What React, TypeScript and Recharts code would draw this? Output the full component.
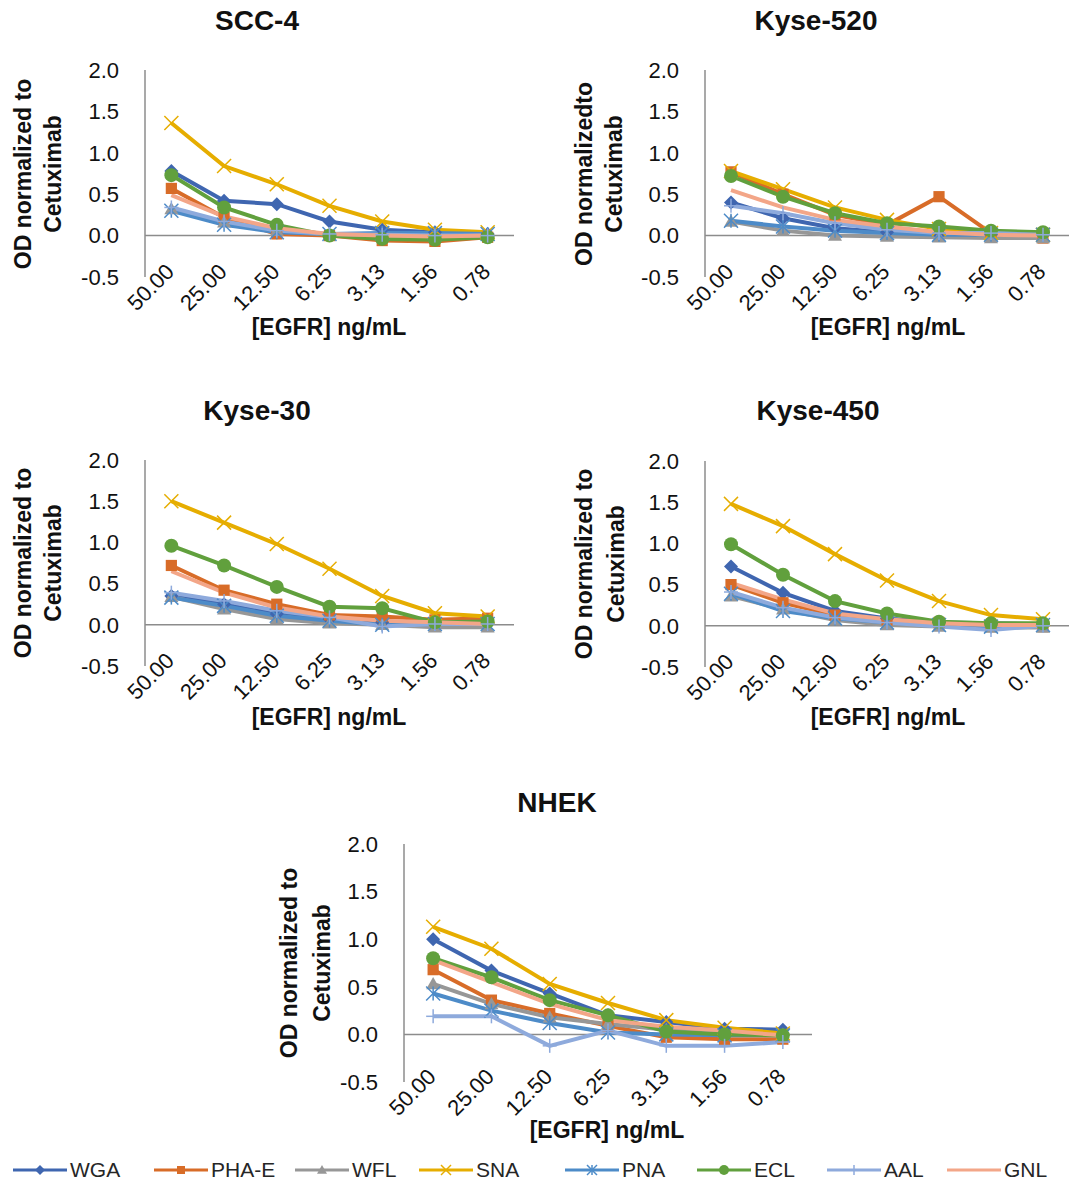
import React from 'react';
import { LineChart, Line, XAxis, YAxis, ReferenceLine } from 'recharts';

// [EGFR] ng/mL, in the order they appear on the x axis
const concentrations = ['50.00', '25.00', '12.50', '6.25', '3.13', '1.56', '0.78'];
const yTicks = [-0.5, 0, 0.5, 1, 1.5, 2];
const lectins = ['WGA', 'PHA-E', 'WFL', 'SNA', 'PNA', 'ECL', 'AAL', 'GNL'];

const scc4: Record<string, number[]> = {
  WGA: [0.78, 0.42, 0.38, 0.17, 0.07, 0.04, 0.02],
  'PHA-E': [0.57, 0.22, 0.02, 0.0, -0.06, -0.07, -0.02],
  WFL: [0.32, 0.16, 0.06, 0.01, 0.0, -0.01, 0.0],
  SNA: [1.36, 0.84, 0.62, 0.36, 0.17, 0.07, 0.04],
  PNA: [0.3, 0.13, 0.04, 0.02, 0.03, 0.03, 0.02],
  ECL: [0.73, 0.34, 0.13, 0.0, -0.04, -0.05, -0.02],
  AAL: [0.34, 0.17, 0.06, 0.02, 0.01, 0.0, 0.0],
  GNL: [0.49, 0.23, 0.09, 0.02, 0.0, -0.01, 0.0],
};

const kyse520: Record<string, number[]> = {
  WGA: [0.4, 0.21, 0.09, 0.04, 0.02, 0.01, 0.01],
  'PHA-E': [0.77, 0.5, 0.25, 0.13, 0.47, 0.03, -0.03],
  WFL: [0.17, 0.06, 0.0, -0.01, -0.02, -0.03, -0.03],
  SNA: [0.78, 0.56, 0.34, 0.19, 0.08, 0.03, 0.01],
  PNA: [0.18, 0.11, 0.06, 0.03, 0.01, 0.01, 0.01],
  ECL: [0.72, 0.47, 0.27, 0.15, 0.11, 0.06, 0.04],
  AAL: [0.36, 0.27, 0.15, 0.07, 0.03, 0.03, 0.01],
  GNL: [0.55, 0.34, 0.19, 0.11, 0.04, 0.01, 0.0],
};

const kyse30: Record<string, number[]> = {
  WGA: [0.35, 0.25, 0.13, 0.07, 0.03, 0.03, 0.03],
  'PHA-E': [0.72, 0.42, 0.25, 0.12, 0.1, 0.06, 0.08],
  WFL: [0.34, 0.19, 0.07, 0.02, 0.0, -0.03, -0.03],
  SNA: [1.5, 1.24, 0.98, 0.68, 0.35, 0.14, 0.1],
  PNA: [0.33, 0.23, 0.11, 0.05, 0.0, 0.01, 0.01],
  ECL: [0.96, 0.72, 0.46, 0.22, 0.2, 0.03, 0.04],
  AAL: [0.39, 0.29, 0.17, 0.09, -0.02, 0.01, 0.01],
  GNL: [0.65, 0.39, 0.21, 0.1, 0.05, 0.03, 0.01],
};

const kyse450: Record<string, number[]> = {
  WGA: [0.72, 0.4, 0.18, 0.09, 0.04, 0.03, 0.02],
  'PHA-E': [0.5, 0.28, 0.13, 0.07, 0.04, -0.01, -0.01],
  WFL: [0.36, 0.2, 0.07, 0.01, -0.01, -0.02, -0.02],
  SNA: [1.48, 1.21, 0.87, 0.55, 0.3, 0.13, 0.08],
  PNA: [0.39, 0.18, 0.09, 0.04, 0.01, -0.01, 0.01],
  ECL: [0.99, 0.62, 0.3, 0.15, 0.05, 0.03, 0.03],
  AAL: [0.41, 0.22, 0.1, 0.04, -0.01, -0.05, 0.0],
  GNL: [0.52, 0.32, 0.15, 0.08, 0.03, 0.01, 0.01],
};

const nhek: Record<string, number[]> = {
  WGA: [1.0, 0.67, 0.43, 0.2, 0.13, 0.06, 0.05],
  'PHA-E': [0.68, 0.36, 0.22, 0.09, -0.03, -0.05, -0.05],
  WFL: [0.53, 0.32, 0.18, 0.11, 0.05, 0.02, 0.0],
  SNA: [1.13, 0.9, 0.53, 0.33, 0.15, 0.07, 0.01],
  PNA: [0.43, 0.25, 0.12, 0.02, 0.0, -0.01, -0.01],
  ECL: [0.8, 0.6, 0.36, 0.2, 0.03, 0.0, -0.01],
  AAL: [0.19, 0.19, -0.12, 0.04, -0.12, -0.12, -0.08],
  GNL: [0.78, 0.55, 0.32, 0.15, 0.08, 0.04, -0.01],
};

const COLORS: Record<string, string> = {
  WGA: '#3f66b0',
  'PHA-E': '#d86c28',
  WFL: '#979797',
  SNA: '#e6ad00',
  PNA: '#4d8bc8',
  ECL: '#61a03d',
  AAL: '#8eaadc',
  GNL: '#f3a688',
};

const MARKERS: Record<string, string> = {
  WGA: 'diamond',
  'PHA-E': 'square',
  WFL: 'triangle',
  SNA: 'x',
  PNA: 'star',
  ECL: 'circle',
  AAL: 'plus',
  GNL: 'none',
};

const FONT = '"Liberation Sans", Arial, sans-serif';
const AXIS_GRAY = '#8c8c8c';

function Marker({ shape, color, cx, cy, s }: { shape: string; color: string; cx: number; cy: number; s: number }) {
  switch (shape) {
    case 'diamond':
      return <polygon points={`${cx},${cy - s} ${cx + s},${cy} ${cx},${cy + s} ${cx - s},${cy}`} fill={color} />;
    case 'square':
      return <rect x={cx - s * 0.8} y={cy - s * 0.8} width={s * 1.6} height={s * 1.6} fill={color} />;
    case 'triangle':
      return <polygon points={`${cx},${cy - s} ${cx + s},${cy + s * 0.75} ${cx - s},${cy + s * 0.75}`} fill={color} />;
    case 'circle':
      return <circle cx={cx} cy={cy} r={s} fill={color} />;
    case 'x':
      return (
        <g stroke={color} strokeWidth={1.5}>
          <line x1={cx - s} y1={cy - s} x2={cx + s} y2={cy + s} />
          <line x1={cx - s} y1={cy + s} x2={cx + s} y2={cy - s} />
        </g>
      );
    case 'star':
      return (
        <g stroke={color} strokeWidth={1.5}>
          <line x1={cx - s} y1={cy - s} x2={cx + s} y2={cy + s} />
          <line x1={cx - s} y1={cy + s} x2={cx + s} y2={cy - s} />
          <line x1={cx} y1={cy - s} x2={cx} y2={cy + s} />
        </g>
      );
    case 'plus':
      return (
        <g stroke={color} strokeWidth={1.5}>
          <line x1={cx - s} y1={cy} x2={cx + s} y2={cy} />
          <line x1={cx} y1={cy - s} x2={cx} y2={cy + s} />
        </g>
      );
    default:
      return null;
  }
}

const makeDot = (name: string) => (props: any) => {
  const { cx, cy, index } = props;
  if (cx == null || cy == null) return <g key={`d-${name}-${index}`} />;
  return (
    <g key={`d-${name}-${index}`}>
      <Marker shape={MARKERS[name]} color={COLORS[name]} cx={cx} cy={cy} s={7} />
    </g>
  );
};

const RotatedTick = ({ x, y, payload }: any) => (
  <text
    transform={`translate(${x + 4},${y - 4}) rotate(-45)`}
    textAnchor="end"
    fontSize={22}
    fontFamily={FONT}
    fill="#111"
  >
    {payload.value}
  </text>
);

interface PanelProps {
  title: string;
  series: Record<string, number[]>;
  plot: { x: number; y: number; w: number; h: number };
  titlePos: [number, number];
  yTitle: [string, string];
  yTitleX: [number, number];
  xTitlePos: [number, number];
}

const Abs = ({ x, y, rotate, style, children }: any) => (
  <div
    style={{
      position: 'absolute',
      left: x,
      top: y,
      transform: `translate(-50%, -50%)${rotate ? ' rotate(-90deg)' : ''}`,
      whiteSpace: 'nowrap',
      fontFamily: FONT,
      color: '#111',
      lineHeight: 1,
      ...style,
    }}
  >
    {children}
  </div>
);

function Panel({ title, series, plot, titlePos, yTitle, yTitleX, xTitlePos }: PanelProps) {
  const yAxisW = 145;
  const topPad = 30;
  const xAxisH = 40;
  const width = yAxisW + plot.w;
  const height = topPad + plot.h + 60;
  const band = plot.w / 7;
  const data = concentrations.map((c, i) => {
    const row: any = { conc: c };
    lectins.forEach((l) => (row[l] = series[l][i]));
    return row;
  });
  const yMid = plot.y + plot.h / 2;

  return (
    <>
      <div style={{ position: 'absolute', left: plot.x - yAxisW, top: plot.y - topPad }}>
        <LineChart
          width={width}
          height={height}
          data={data}
          margin={{ top: topPad, right: 0, left: 0, bottom: height - topPad - plot.h - xAxisH }}
        >
          <XAxis
            dataKey="conc"
            axisLine={false}
            tickLine={false}
            tickSize={0}
            tickMargin={0}
            interval={0}
            height={xAxisH}
            padding={{ left: band / 2, right: band / 2 }}
            tick={<RotatedTick />}
          />
          <YAxis
            type="number"
            domain={[-0.5, 2]}
            ticks={yTicks}
            interval={0}
            width={yAxisW}
            tickLine={false}
            tickSize={0}
            tickMargin={26}
            axisLine={{ stroke: AXIS_GRAY, strokeWidth: 1.5 }}
            tickFormatter={(v: number) => v.toFixed(1)}
            tick={{ fontSize: 22, fill: '#111', fontFamily: FONT }}
          />
          <ReferenceLine y={0} stroke={AXIS_GRAY} strokeWidth={1.5} />
          {lectins.map((l) => (
            <Line
              key={l}
              dataKey={l}
              stroke={COLORS[l]}
              strokeWidth={4}
              dot={makeDot(l)}
              activeDot={false}
              isAnimationActive={false}
            />
          ))}
        </LineChart>
      </div>
      <Abs x={titlePos[0]} y={titlePos[1]} style={{ fontSize: 28, fontWeight: 'bold' }}>
        {title}
      </Abs>
      <Abs x={yTitleX[0]} y={yMid} rotate style={{ fontSize: 23, fontWeight: 'bold' }}>
        {yTitle[0]}
      </Abs>
      <Abs x={yTitleX[1]} y={yMid} rotate style={{ fontSize: 23, fontWeight: 'bold' }}>
        {yTitle[1]}
      </Abs>
      <Abs x={xTitlePos[0]} y={xTitlePos[1]} style={{ fontSize: 23, fontWeight: 'bold' }}>
        [EGFR] ng/mL
      </Abs>
    </>
  );
}

const legendX = [13, 154, 295, 419, 565, 697, 827, 947];

function LegendRow() {
  return (
    <>
      {lectins.map((l, i) => (
        <div
          key={l}
          style={{
            position: 'absolute',
            left: legendX[i],
            top: 1170,
            transform: 'translateY(-50%)',
            display: 'flex',
            alignItems: 'center',
            fontFamily: FONT,
            fontSize: 21,
            color: '#262626',
            whiteSpace: 'nowrap',
          }}
        >
          <svg width={54} height={14} style={{ display: 'block' }}>
            <line x1={0} y1={7} x2={54} y2={7} stroke={COLORS[l]} strokeWidth={3} />
            <Marker shape={MARKERS[l]} color={COLORS[l]} cx={27} cy={7} s={5} />
          </svg>
          <span style={{ marginLeft: 3 }}>{l}</span>
        </div>
      ))}
    </>
  );
}

export default function App() {
  return (
    <div
      style={{
        position: 'absolute',
        left: 0,
        top: 0,
        width: 1069,
        height: 1184,
        overflow: 'hidden',
        background: '#fff',
      }}
    >
      <Panel
        title="SCC-4"
        series={scc4}
        plot={{ x: 145, y: 70, w: 369, h: 207 }}
        titlePos={[257, 21]}
        yTitle={['OD normalized to', 'Cetuximab']}
        yTitleX={[23, 53]}
        xTitlePos={[329, 327]}
      />
      <Panel
        title="Kyse-520"
        series={kyse520}
        plot={{ x: 705, y: 70, w: 364, h: 207 }}
        titlePos={[816, 21]}
        yTitle={['OD normalizedto', 'Cetuximab']}
        yTitleX={[584, 614]}
        xTitlePos={[888, 327]}
      />
      <Panel
        title="Kyse-30"
        series={kyse30}
        plot={{ x: 145, y: 460, w: 369, h: 206 }}
        titlePos={[257, 411]}
        yTitle={['OD normalized to', 'Cetuximab']}
        yTitleX={[23, 53]}
        xTitlePos={[329, 717]}
      />
      <Panel
        title="Kyse-450"
        series={kyse450}
        plot={{ x: 705, y: 461, w: 364, h: 206 }}
        titlePos={[818, 411]}
        yTitle={['OD normalized to', 'Cetuximab']}
        yTitleX={[584, 616]}
        xTitlePos={[888, 717]}
      />
      <Panel
        title="NHEK"
        series={nhek}
        plot={{ x: 404, y: 844, w: 408, h: 238 }}
        titlePos={[557, 803]}
        yTitle={['OD normalized to', 'Cetuximab']}
        yTitleX={[289, 322]}
        xTitlePos={[607, 1130]}
      />
      <LegendRow />
    </div>
  );
}
